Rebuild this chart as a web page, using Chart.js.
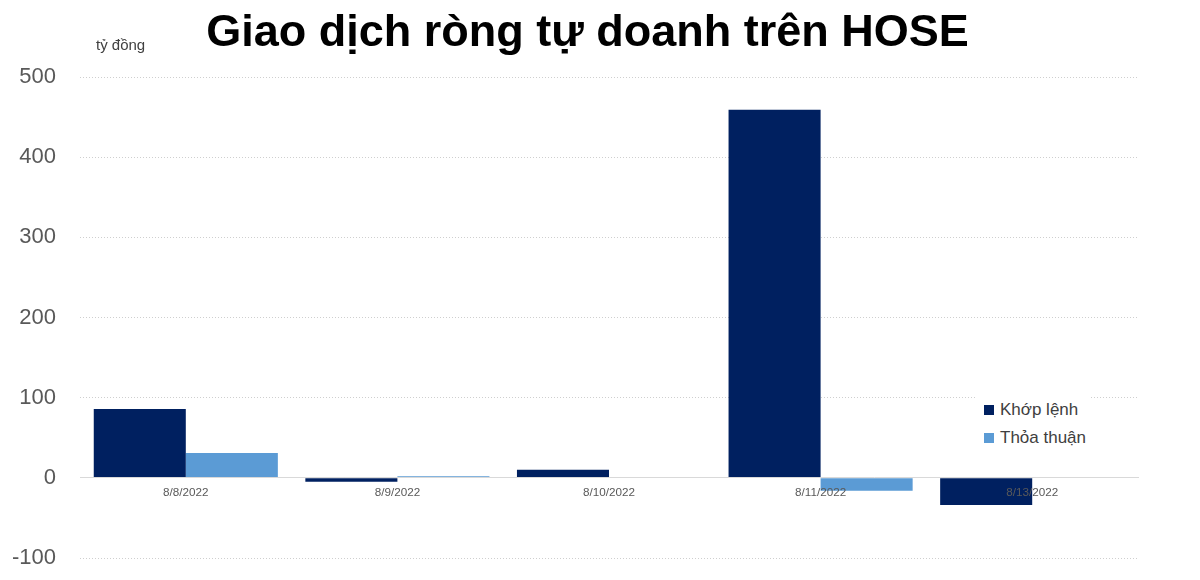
<!DOCTYPE html>
<html><head><meta charset="utf-8">
<script src="https://cdn.jsdelivr.net/npm/chart.js@4/dist/chart.umd.min.js"></script>
<style>
html,body{margin:0;padding:0;background:#fff;}
#wrap{position:relative;width:1200px;height:580px;}
#title{position:absolute;left:0;width:1175px;top:5px;text-align:center;font:bold 45px "Liberation Sans",Arial,sans-serif;color:#000;}
#unit{position:absolute;left:96px;top:36px;font:15px "Liberation Sans",Arial,sans-serif;color:#404040;}
#legend{position:absolute;left:976px;top:394px;width:114px;height:62px;background:#fff;font:17px "Liberation Sans",Arial,sans-serif;color:#404040;}
.li{position:absolute;left:8px;white-space:nowrap;}
.sw{display:inline-block;width:10px;height:10px;margin-right:6px;vertical-align:0px;}
</style></head>
<body><div id="wrap"><canvas id="c" width="1200" height="580"></canvas>
<div id="title">Giao dịch ròng tự doanh trên HOSE</div>
<div id="unit">tỷ đồng</div>
<div id="legend"></div></div>
<script>
const categories = ["8/8/2022","8/9/2022","8/10/2022","8/11/2022","8/13/2022"];
const khopLenh = [86, -5, 10, 459, -34];
const thoaThuan = [31, 2, 0, -16, 0];
const seriesNames = ["Khớp lệnh","Thỏa thuận"];
const colors = ["#002060","#5B9BD5"];

const datasets = [
  {label: seriesNames[0], data: khopLenh, backgroundColor: colors[0]},
  {label: seriesNames[1], data: thoaThuan, backgroundColor: colors[1]}
];
const lg = document.getElementById('legend');
datasets.forEach((d,i)=>{
  const el = document.createElement('div');
  el.className='li'; el.style.top=(6+i*28)+'px';
  el.innerHTML='<span class="sw" style="background:'+d.backgroundColor+'"></span>'+d.label;
  lg.appendChild(el);
});

new Chart(document.getElementById('c'), {
  type: 'bar',
  data: {labels: categories, datasets: datasets},
  options: {
    responsive: false, animation: false,
    layout: {padding: {top: 77, right: 62, bottom: 22, left: 0}},
    plugins: {legend: {display: false}, title: {display: false}, tooltip: {enabled: false}},
    datasets: {bar: {categoryPercentage: 0.87, barPercentage: 1.0}},
    scales: {
      x: {
        position: {y: 0},
        afterFit: s => { s.height = 0; s.paddingLeft = 0; s.paddingRight = 0; s.paddingTop = 0; s.paddingBottom = 0; },
        grid: {display: false, drawTicks: false},
        border: {display: true, color: '#d9d9d9', width: 1, z: 1},
        ticks: {z: 1, color: '#595959', font: {family: '"Liberation Sans", Arial, sans-serif', size: 11.7}, padding: 8, maxRotation: 0}
      },
      y: {
        min: -100, max: 500,
        afterFit: s => { s.width = 80; s.paddingTop = 0; s.paddingBottom = 0; },
        grid: {color: '#cfcfcf', drawTicks: false},
        border: {display: false, dash: [1,2]},
        ticks: {stepSize: 100, color: '#595959', font: {family: '"Liberation Sans", Arial, sans-serif', size: 22}, padding: 24}
      }
    }
  }
});
</script></body></html>
